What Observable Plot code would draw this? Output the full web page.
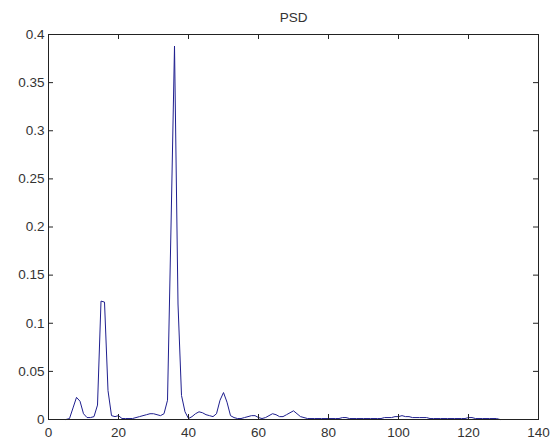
<!DOCTYPE html>
<html>
<head>
<meta charset="utf-8">
<script src="https://cdn.jsdelivr.net/npm/d3@7"></script>
<script src="https://cdn.jsdelivr.net/npm/@observablehq/plot@0.6"></script>
<style>
  html, body { margin: 0; padding: 0; background: #fff; }
  #chart svg { display: block; }
</style>
</head>
<body>
<div id="chart"></div>
<script>
const title = "PSD";
const freq = [5,6,7,8,9,10,11,12,13,14,15,16,17,18,19,20,21,22,23,24,25,26,27,28,29,30,
  31,32,33,34,35,36,37,38,39,40,41,42,43,44,45,46,47,48,49,50,51,52,53,54,55,56,57,58,59,60,
  61,62,63,64,65,66,67,68,69,70,71,72,73,74,75,76,77,78,79,80,81,82,83,84,85,86,87,88,89,90,
  91,92,93,94,95,96,97,98,99,100,101,102,103,104,105,106,107,108,109,110,111,112,113,114,115,
  116,117,118,119,120,121,122,123,124,125,126,127,128,129];
const psd = [0.000,0.001,0.012,0.023,0.019,0.006,0.002,0.002,0.003,0.015,0.123,0.122,0.030,0.004,0.003,0.004,0.001,0.001,0.001,0.001,0.002,0.003,0.004,0.005,0.006,0.006,
  0.005,0.004,0.006,0.020,0.200,0.388,0.120,0.025,0.008,0.001,0.003,0.006,0.008,0.007,0.005,0.004,0.003,0.006,0.020,0.028,0.018,0.004,0.002,0.001,0.001,0.002,0.003,0.004,0.004,0.002,
  0.001,0.002,0.004,0.006,0.005,0.003,0.003,0.005,0.007,0.009,0.006,0.003,0.002,0.001,0.001,0.001,0.001,0.001,0.001,0.001,0.001,0.001,0.001,0.002,0.002,0.001,0.001,0.001,0.001,0.001,
  0.001,0.001,0.001,0.001,0.001,0.002,0.002,0.002,0.003,0.003,0.004,0.003,0.003,0.002,0.002,0.002,0.002,0.002,0.001,0.001,0.001,0.001,0.001,0.001,0.001,
  0.001,0.001,0.001,0.001,0.002,0.002,0.001,0.001,0.001,0.001,0.001,0.001,0.001,0.000];
const xTicks = [0,20,40,60,80,100,120,140];
const yTicks = [0,0.05,0.1,0.15,0.2,0.25,0.3,0.35,0.4];

const data = freq.map((f, i) => ({f, p: psd[i]}));

const W = 554, H = 441, mL = 48, mR = 16, mT = 34, mB = 22;
const fh = H - mT - mB, fw = W - mL - mR, tk = 5;

const chart = Plot.plot({
  width: W, height: H,
  marginLeft: mL, marginRight: mR, marginTop: mT, marginBottom: mB,
  style: {fontFamily: "'Liberation Sans', Arial, sans-serif", fontSize: "13.5px", color: "#333", background: "#fff"},
  x: {domain: [0, 140]},
  y: {domain: [0, 0.4]},
  marks: [
    Plot.line(data, {x: "f", y: "p", stroke: "#1f1f8f", strokeWidth: 1}),
    Plot.frame({stroke: "#222", strokeWidth: 1}),
    Plot.ruleX(xTicks, {stroke: "#222", insetTop: fh - tk}),
    Plot.ruleX(xTicks, {stroke: "#222", insetBottom: fh - tk}),
    Plot.ruleY(yTicks, {stroke: "#222", insetRight: fw - tk}),
    Plot.ruleY(yTicks, {stroke: "#222", insetLeft: fw - tk}),
    Plot.axisX({ticks: xTicks, tickSize: 0, tickPadding: 8, label: null, tickFormat: d => String(d), fontSize: 13.5}),
    Plot.axisY({ticks: yTicks, tickSize: 0, tickPadding: 4, label: null, tickFormat: d => String(d), fontSize: 13.5}),
    Plot.text([title], {frameAnchor: "top", dy: -22, fontSize: 13.5, fill: "#333"})
  ]
});
document.getElementById("chart").appendChild(chart);
</script>
</body>
</html>
